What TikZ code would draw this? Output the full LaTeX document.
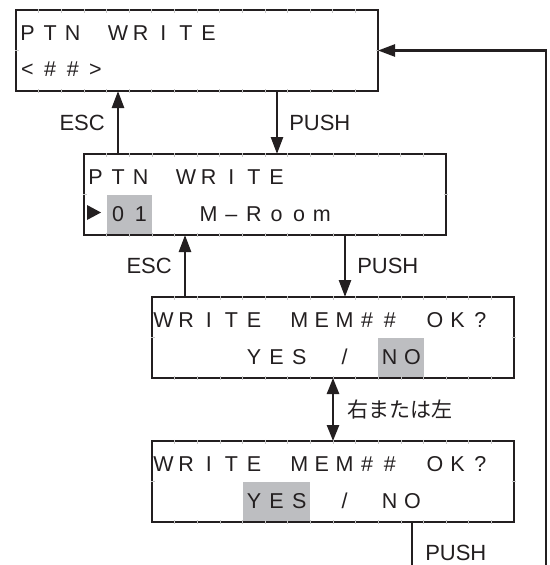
\documentclass[tikz,border=0pt]{standalone}
\usepackage{fontspec}
\setmainfont{Liberation Sans}
\newfontfamily\jpfont{Noto Sans CJK JP}
\usepackage{xcolor}
\usepackage{tikz}
\usetikzlibrary{arrows.meta, positioning, calc, backgrounds}

\definecolor{ink}{RGB}{35,31,32}
\definecolor{hilite}{RGB}{189,190,193}

\newdimen\cellw
\cellw=22.625pt

\makeatletter
\newcommand\lcdtext[1]{\@tfor\lcd@ch:=#1\do{\makebox[\cellw]{\lcd@ch}}}
\makeatother

\tikzset{
  lcd/.style={draw=ink, line width=2.5pt, minimum width=362pt,
    minimum height=81pt, inner sep=0pt, outer sep=0pt, anchor=north west},
  lcdrow/.style={font=\fontsize{21.5}{25}\selectfont, text=ink,
    inner sep=0pt, anchor=base west},
  lbl/.style={font=\fontsize{22}{26}\selectfont, text=ink, inner sep=0pt},
  jplbl/.style={font=\fontsize{21}{25}\selectfont\jpfont, text=ink, inner sep=0pt},
  conn/.style={draw=ink, line width=2.5pt},
  arr/.style={conn, -{Triangle[length=17pt,width=12pt]}},
  dblarr/.style={conn, {Triangle[length=16pt,width=12pt]}-{Triangle[length=16pt,width=12pt]}},
  celltick/.style={draw=gray!45, line width=0.6pt},
}

\begin{document}
\begin{tikzpicture}[x=1pt, y=-1pt]
  \useasboundingbox (0,0) rectangle (549,565);

  %--- displays ---
  \node[lcd] (ptn)    at (16,10)  {};
  \node[lcd] (sel)    at (84,154) {};
  \node[lcd] (cfmno)  at (152,297) {};
  \node[lcd] (cfmyes) at (152,441) {};

  %--- cursor highlights ---
  \begin{scope}[on background layer]
    \fill[hilite] ([xshift=1*\cellw]sel.west) rectangle ([xshift=3*\cellw]sel.south west);
    \fill[hilite] ([xshift=10*\cellw]cfmno.west) rectangle ([xshift=12*\cellw]cfmno.south west);
    \fill[hilite] ([xshift=4*\cellw]cfmyes.west) rectangle ([xshift=7*\cellw]cfmyes.south west);
  \end{scope}

  %--- character grid marks ---
  \foreach \b in {ptn, sel, cfmno, cfmyes} {
    \foreach \i in {1,...,15} {
      \draw[celltick] ([xshift=\i*\cellw, yshift=1.5pt]\b.north west) -- ++(0,4);
      \draw[celltick] ([xshift=\i*\cellw, yshift=-1.5pt]\b.south west) -- ++(0,-4);
    }
    \draw[celltick] ([xshift=-1.5pt]\b.west) -- ++(4,0);
    \draw[celltick] ([xshift=1.5pt]\b.east) -- ++(-4,0);
  }

  %--- display texts ---
  \node[lcdrow] (ptn1) at ([yshift=-30pt]ptn.north west) {\lcdtext{PTN{}WRITE}};
  \node[lcdrow] (ptn2) at ([yshift=-66pt]ptn.north west) {\lcdtext{<\#\#>}};
  \node[lcdrow] (sel1) at ([yshift=-30pt]sel.north west) {\lcdtext{PTN{}WRITE}};
  \node[lcdrow] (sel2) at ([yshift=-67pt]sel.north west) {\lcdtext{{}01{}{}M\textendash Room}};
  \fill[ink] ([xshift=3pt, yshift=30pt]sel.south west) -- ([xshift=17pt, yshift=22.5pt]sel.south west)
    -- ([xshift=3pt, yshift=15pt]sel.south west) -- cycle;
  \node[lcdrow] (cfmno1) at ([yshift=-30pt]cfmno.north west) {\lcdtext{WRITE{}MEM\#\#{}OK?}};
  \node[lcdrow] (cfmno2) at ([yshift=-67pt]cfmno.north west) {\lcdtext{{}{}{}{}YES{}/{}NO}};
  \node[lcdrow] (cfmyes1) at ([yshift=-30pt]cfmyes.north west) {\lcdtext{WRITE{}MEM\#\#{}OK?}};
  \node[lcdrow] (cfmyes2) at ([yshift=-67pt]cfmyes.north west) {\lcdtext{{}{}{}{}YES{}/{}NO}};

  %--- key transitions ---
  \coordinate (esc1)  at ([xshift=34pt]sel.north west);
  \coordinate (push1) at ([xshift=261pt]ptn.south west);
  \coordinate (esc2)  at ([xshift=33pt]cfmno.north west);
  \coordinate (push2) at ([xshift=261pt]sel.south west);
  \coordinate (push3) at ([xshift=260pt]cfmyes.south west);
  \coordinate (loop)  at (546,565);

  \draw[arr] (esc1) -- (esc1 |- ptn.south) node[lbl, midway, left=12pt] {ESC};
  \draw[arr] (push1) -- (push1 |- sel.north) node[lbl, midway, right=11pt] {PUSH};
  \draw[arr] (esc2) -- (esc2 |- sel.south) node[lbl, midway, left=12pt] {ESC};
  \draw[arr] (push2) -- (push2 |- cfmno.north) node[lbl, midway, right=11pt] {PUSH};
  \draw[dblarr] (cfmno.south) -- (cfmyes.north) node[jplbl, midway, right=13pt] {右または左};
  \draw[conn] (push3) -- (push3 |- loop) node[lbl, pos=0.72, right=12pt] {PUSH};
  \draw[arr] (loop) |- (ptn.east);
\end{tikzpicture}
\end{document}
